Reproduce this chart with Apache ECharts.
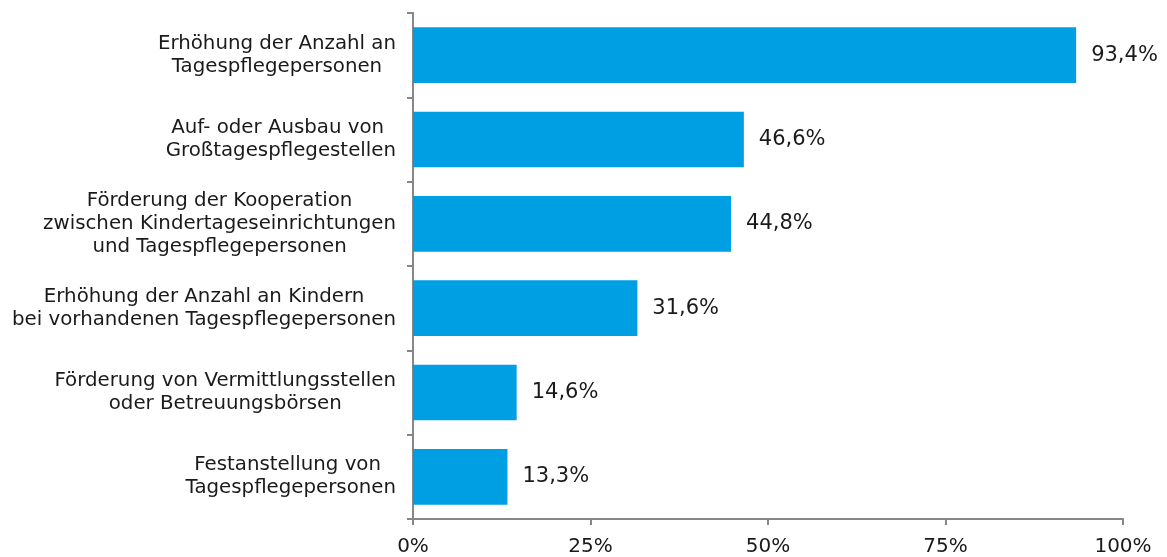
<!DOCTYPE html>
<html lang="de">
<head>
    <meta charset="UTF-8" />
    <title>Maßnahmen Kindertagespflege</title>
    <script src="https://cdn.jsdelivr.net/npm/echarts@6.0.0/dist/echarts.min.js"></script>
    <style>
        html, body {
            margin: 0;
            padding: 0;
            background: #ffffff;
        }
        #chart {
            width: 1167px;
            height: 557px;
        }
    </style>
</head>
<body>
<div id="chart"></div>
<script>
    const categories = [
        'Erhöhung der Anzahl an\nTagespflegepersonen',
        'Auf- oder Ausbau von \nGroßtagespflegestellen',
        'Förderung der Kooperation\nzwischen Kindertageseinrichtungen\nund Tagespflegepersonen',
        'Erhöhung der Anzahl an Kindern\nbei vorhandenen Tagespflegepersonen',
        'Förderung von Vermittlungsstellen\noder Betreuungsbörsen',
        'Festanstellung von \nTagespflegepersonen'
    ];
    const values = [93.4, 46.6, 44.8, 31.6, 14.6, 13.3];
    const xTicks = [0, 25, 50, 75, 100];

    const font = 'Verdana, "DejaVu Sans", sans-serif';
    const axisGrey = '#878787';
    const textColor = '#1a1a1a';

    const chart = echarts.init(document.getElementById('chart'));

    const option = {
        animation: false,
        textStyle: { fontFamily: font },
        grid: {
            left: 413,
            right: 44,
            top: 13,
            bottom: 38,
            containLabel: false
        },
        xAxis: {
            type: 'value',
            min: xTicks[0],
            max: xTicks[xTicks.length - 1],
            interval: 25,
            axisLine: { show: true, lineStyle: { color: axisGrey, width: 2 } },
            axisTick: { show: true, length: 6, lineStyle: { color: axisGrey, width: 2 } },
            splitLine: { show: false },
            axisLabel: {
                formatter: '{value}%',
                fontSize: 20,
                color: textColor,
                margin: 18,
                fontFamily: font
            }
        },
        yAxis: {
            type: 'category',
            data: categories,
            inverse: true,
            axisLine: { show: true, lineStyle: { color: axisGrey, width: 2 } },
            axisTick: { show: true, length: 6, lineStyle: { color: axisGrey, width: 2 } },
            axisLabel: {
                margin: 17,
                // each line centred inside the right-aligned label block
                formatter: v => v.split('\n').map(s => '{c|' + s + '}').join('\n'),
                rich: {
                    c: {
                        align: 'center',
                        fontSize: 19.8,
                        lineHeight: 23,
                        color: textColor,
                        fontFamily: font
                    }
                }
            }
        },
        series: [{
            type: 'bar',
            data: values,
            barCategoryGap: '34%',
            itemStyle: { color: '#009FE3' },
            label: {
                show: true,
                position: 'right',
                distance: 15,
                fontSize: 21,
                color: textColor,
                fontFamily: font,
                formatter: p => p.value.toFixed(1).replace('.', ',') + '%'
            }
        }]
    };

    chart.setOption(option);
</script>
</body>
</html>
